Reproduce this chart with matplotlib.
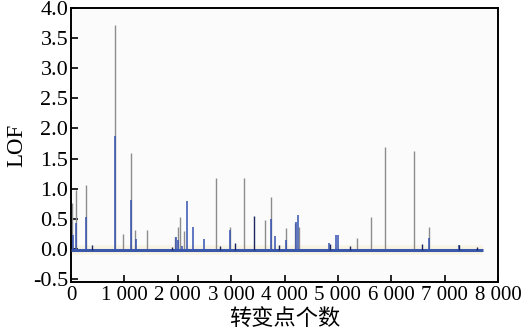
import numpy as np
import matplotlib
matplotlib.use('Agg')
import matplotlib.pyplot as plt
import matplotlib.ticker as mtick

plt.rcParams['font.family'] = ['Liberation Serif', 'Noto Sans CJK SC']
plt.rcParams['axes.unicode_minus'] = True

# grey spikes (full LOF height)
gray_x = [25, 90, 275, 820, 980, 1120, 1195, 1430, 1950, 2000, 2050, 2120,
          2710, 2970, 3250, 3625, 3750, 4020, 4200, 4280, 5360, 5620, 5890,
          6430, 6700]
gray_h = [0.76, 0.98, 1.06, 3.72, 0.25, 1.60, 0.32, 0.32, 0.20, 0.36, 0.53, 0.30,
          1.17, 0.36, 1.17, 0.48, 0.87, 0.34, 0.43, 0.37, 0.18, 0.53, 1.69,
          1.62, 0.36]

# blue spikes
blue_x = [40, 90, 275, 820, 1120, 1210, 1960, 2010, 2070, 2180, 2290, 2490,
          2970, 3750, 3825, 4020, 4220, 4250, 4840, 4965, 5000, 6700, 7270]
blue_h = [0.23, 0.43, 0.53, 1.87, 0.81, 0.17, 0.20, 0.15, 0.05, 0.79, 0.36, 0.16,
          0.32, 0.50, 0.22, 0.15, 0.45, 0.56, 0.10, 0.23, 0.23, 0.18, 0.07]

# small dark blips on the baseline
dark_x = [3420, 400, 3080, 4850, 5230, 6570, 7270, 7610, 1900, 2800, 3900]
dark_h = [0.54, 0.07, 0.10, 0.08, 0.05, 0.08, 0.07, 0.04, 0.04, 0.05, 0.06]

base_y = -0.02
x_end = 7725

fig = plt.figure(figsize=(5.24, 3.35), dpi=100)
ax = fig.add_axes([0.1355, 0.158, 0.815, 0.818])
ax.set_facecolor('#fbfbfb')

ax.hlines(base_y, 0, x_end, color='#f5efd2', linewidth=7, alpha=0.5, zorder=1)
ax.vlines(gray_x, base_y, gray_h, color='#8c8c8c', linewidth=1.0, zorder=2)
ax.hlines(base_y, 0, x_end, color='#3a58aa', linewidth=2.2, zorder=3)
ax.vlines(blue_x, base_y, blue_h, color='#3552b0', linewidth=1.1, zorder=4)
ax.vlines(dark_x, base_y, dark_h, color='#1a2660', linewidth=1.0, zorder=4)

ax.set_xlim(0, 8000)
ax.set_ylim(-0.55, 4.0)
ax.set_xticks(np.arange(0, 8001, 1000))
ax.xaxis.set_major_formatter(mtick.FuncFormatter(
    lambda v, p: '{:,}'.format(int(v)).replace(',', ' ')))
ax.set_yticks(np.arange(-0.5, 4.01, 0.5))
ax.yaxis.set_major_formatter(mtick.FormatStrFormatter('%.1f'))

ax.tick_params(direction='in', length=5, width=1.2, top=False, right=False)
ax.tick_params(axis='x', labelsize=15, pad=3)
ax.tick_params(axis='y', labelsize=16, pad=2)
for s in ax.spines.values():
    s.set_linewidth(1.4)

ax.set_xlabel('转变点个数', fontsize=16, labelpad=3)
ax.set_ylabel('LOF', fontsize=16.5, labelpad=4)

plt.savefig('out.png', dpi=100)
